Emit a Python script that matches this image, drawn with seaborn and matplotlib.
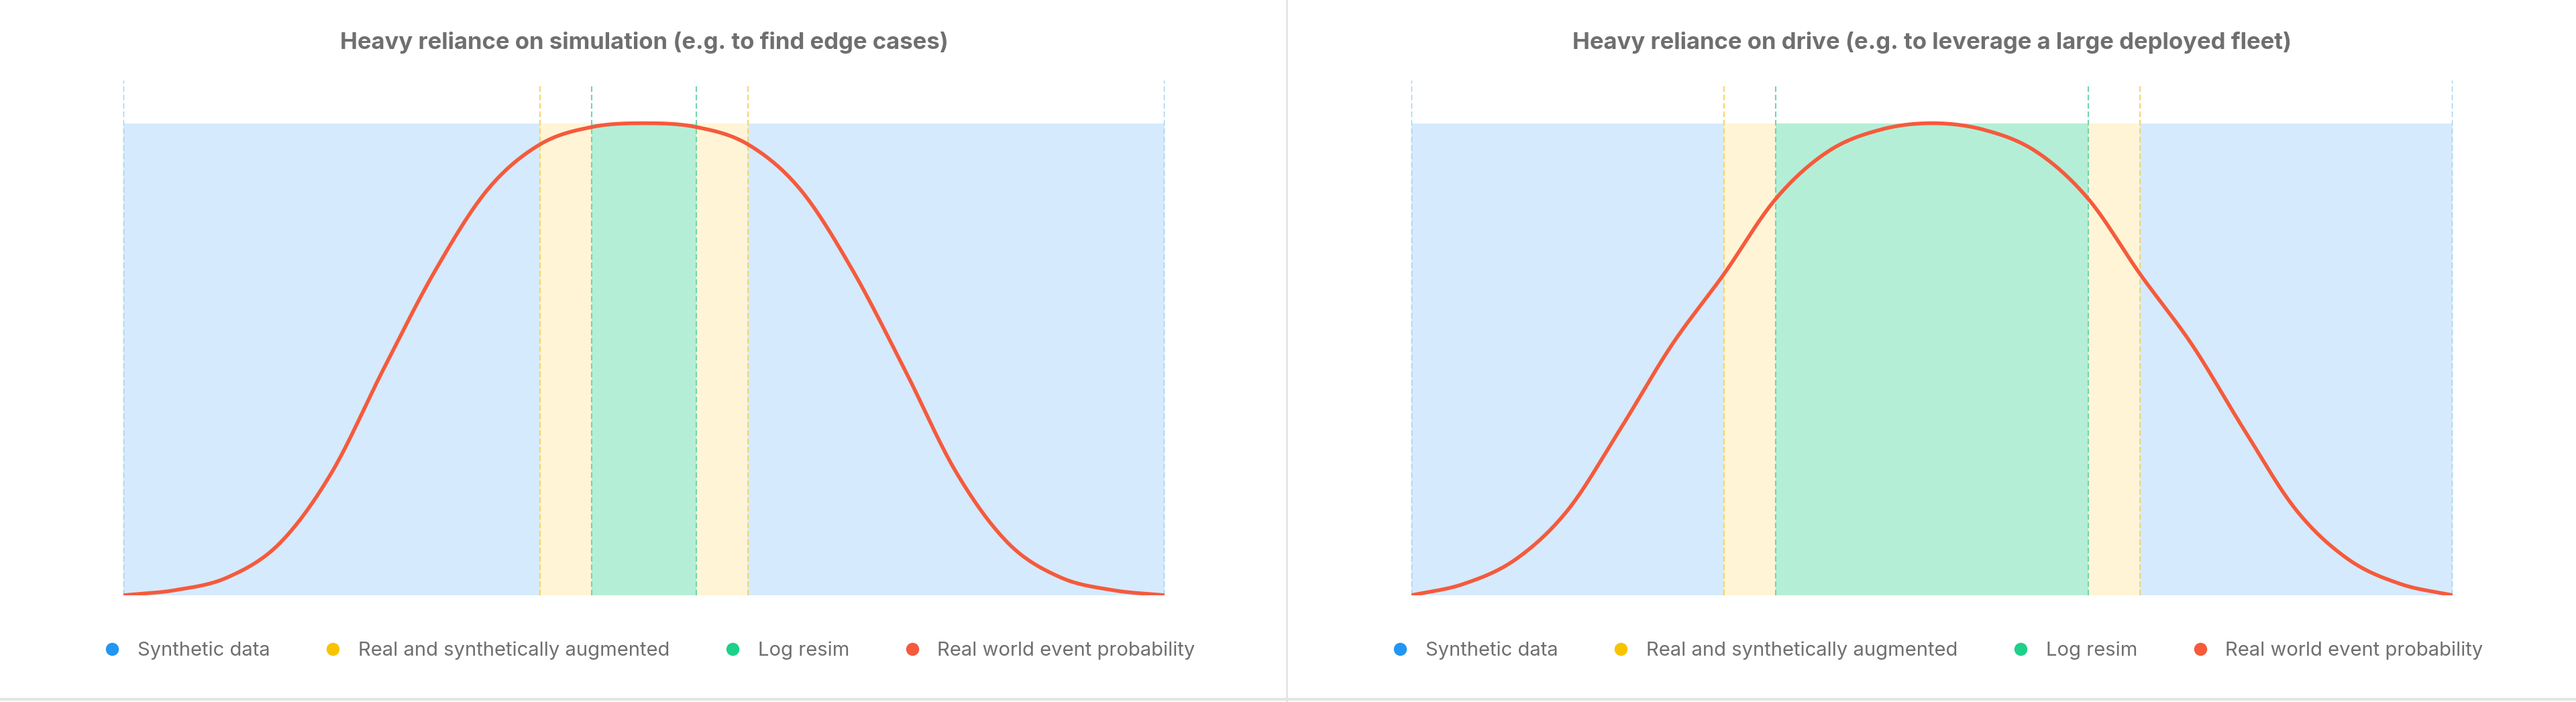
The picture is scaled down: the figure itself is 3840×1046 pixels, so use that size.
import numpy as np
import matplotlib
matplotlib.use("Agg")
import matplotlib.pyplot as plt
import seaborn as sns
from matplotlib.lines import Line2D

sns.set_style("white")
plt.rcParams["font.family"] = ["Inter", "DejaVu Sans"]

titles = [
    "Heavy reliance on simulation (e.g. to find edge cases)",
    "Heavy reliance on drive (e.g. to leverage a large deployed fleet)",
]
legend_labels = ["Synthetic data", "Real and synthetically augmented", "Log resim",
                 "Real world event probability"]

# band edges: yellow start, green start, green end, yellow end
bands_left = [0.40, 0.45, 0.55, 0.60]
bands_right = [0.30, 0.35, 0.65, 0.70]

# curve at x = 0, 0.05, ..., 1
curve_x = [i * 0.05 for i in range(21)]
curve_left = [0.0, 0.011, 0.038, 0.11, 0.26, 0.48, 0.69, 0.86, 0.955, 0.992, 1.0,
              0.992, 0.955, 0.86, 0.69, 0.48, 0.26, 0.11, 0.038, 0.011, 0.0]
curve_right = [0.0, 0.024, 0.076, 0.18, 0.35, 0.53, 0.68, 0.84, 0.94, 0.986, 1.0,
               0.986, 0.94, 0.84, 0.68, 0.53, 0.35, 0.18, 0.076, 0.024, 0.0]

BLUE_FILL = "#d5eafc"
YELLOW_FILL = "#fff4d6"
GREEN_FILL = "#b5eed7"
RED = "#f55a3c"
DOTS = ["#2196f3", "#f7c300", "#1dd18a", RED]


def smooth(x, y, n=400):
    # cubic hermite upsampling for drawing only
    x = np.asarray(x); y = np.asarray(y)
    m = np.gradient(y, x)
    xs = np.linspace(x[0], x[-1], n)
    idx = np.clip(np.searchsorted(x, xs) - 1, 0, len(x) - 2)
    h = x[idx + 1] - x[idx]
    t = (xs - x[idx]) / h
    h00 = 2 * t**3 - 3 * t**2 + 1
    h10 = t**3 - 2 * t**2 + t
    h01 = -2 * t**3 + 3 * t**2
    h11 = t**3 - t**2
    ys = h00 * y[idx] + h10 * h * m[idx] + h01 * y[idx + 1] + h11 * h * m[idx + 1]
    return xs, ys


fig = plt.figure(figsize=(38.4, 10.46), dpi=100)
lefts = [184 / 3840, 2104 / 3840]
width = 1552 / 3840

for k, (bands, curve) in enumerate([(bands_left, curve_left), (bands_right, curve_right)]):
    ax = fig.add_axes([lefts[k], 0.152, width, 0.733])
    ax.set_xlim(0, 1)
    ax.set_ylim(0, 1.09)
    ax.axvspan(0, bands[0], ymax=1 / 1.09, color=BLUE_FILL, lw=0)
    ax.axvspan(bands[3], 1, ymax=1 / 1.09, color=BLUE_FILL, lw=0)
    ax.axvspan(bands[0], bands[1], ymax=1 / 1.09, color=YELLOW_FILL, lw=0)
    ax.axvspan(bands[2], bands[3], ymax=1 / 1.09, color=YELLOW_FILL, lw=0)
    ax.axvspan(bands[1], bands[2], ymax=1 / 1.09, color=GREEN_FILL, lw=0)
    for xv in [0, 1]:
        ax.axvline(xv, color="#8cc4ec", lw=1.5, ls=(0, (4, 2)))
    for xv, c in zip(bands, ["#f7d46a", "#6fd6ad", "#6fd6ad", "#f7d46a"]):
        ax.axvline(xv, ymax=1.08 / 1.09, color=c, lw=1.5, ls=(0, (4, 2)))
    xs, ys = smooth(curve_x, curve)
    sns.lineplot(x=xs, y=ys, ax=ax, color=RED, lw=4, sort=False)
    ax.set_axis_off()
    ax.set_title(titles[k], fontsize=25, fontweight="bold", color="#6f6f6f", pad=34)
    handles = [Line2D([], [], marker="o", ls="", markersize=13, color=c) for c in DOTS]
    ax.legend(handles, legend_labels, loc="upper center", bbox_to_anchor=(0.5, -0.055),
              ncol=4, frameon=False, fontsize=21, labelcolor="#6f6f6f",
              handletextpad=0.3, columnspacing=2.2)

fig.add_artist(Line2D([1918 / 3840] * 2, [0, 1], color="#e4e4e4", lw=2))
fig.add_artist(Line2D([0, 1], [4 / 1046] * 2, color="#e4e4e4", lw=3))
fig.savefig("out.png", dpi=100, facecolor="white")
